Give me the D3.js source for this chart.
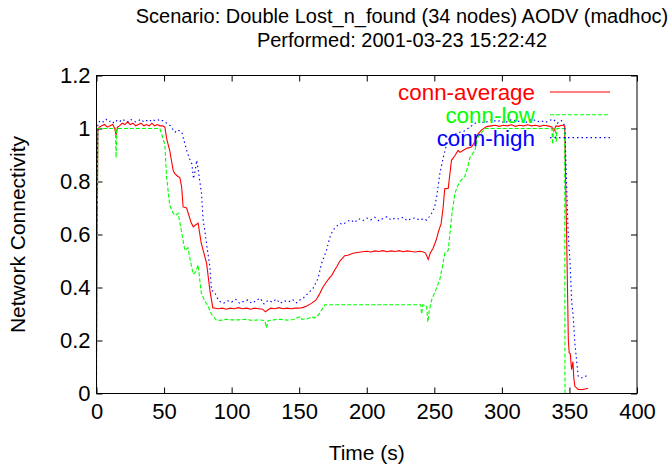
<!DOCTYPE html>
<html>
<head>
<meta charset="utf-8">
<script src="https://cdn.jsdelivr.net/npm/d3@7"></script>
<style>
  body { margin: 0; background: #fff; }
  svg text { font-family: "Liberation Sans", Arial, sans-serif; }
</style>
</head>
<body>
<div id="chart"></div>
<script>
// connectivity over time: [time (s), value]
var connAverage = [
  [0,0.15],[1,0.99],[2,1.005],[4,1.01],[6,1.015],[8,1.005],[10,1.01],[12,1.015],[13.5,1.0],[14.5,0.975],
  [15.5,1.005],[17,1.01],[19,1.02],[21,1.015],[23,1.025],[25,1.015],[27,1.02],[29,1.01],[31,1.015],[33,1.02],
  [35,1.01],[37,1.015],[39,1.01],[41,1.02],[43,1.01],[45,1.015],[47,1.01],[49,1.01],[50.6,1.005],[52,0.96],
  [54.2,0.917],[56.8,0.84],[58,0.83],[60,0.82],[61.7,0.815],[63,0.78],[64.1,0.704],[66.7,0.70],[68.5,0.67],[70,0.645],
  [71.6,0.629],[73,0.635],[75.2,0.643],[77.5,0.567],[79.5,0.53],[81.5,0.49],[83.9,0.39],[86.1,0.323],[88,0.322],[90,0.32],
  [93,0.322],[96,0.318],[99,0.322],[102,0.32],[105,0.324],[108,0.32],[111,0.322],[114,0.318],[117,0.322],[120,0.32],
  [123,0.318],[125,0.308],[127,0.316],[129,0.322],[132,0.32],[135,0.324],[138,0.32],[141,0.322],[144,0.32],[147,0.322],
  [150,0.322],[153,0.325],[155.6,0.33],[159,0.34],[162.5,0.353],[165,0.375],[167.4,0.40],[170,0.42],[172.4,0.436],[174,0.445],
  [176.3,0.466],[178,0.48],[180.1,0.50],[182,0.51],[183.7,0.52],[186,0.522],[189.9,0.529],[193,0.532],[197,0.535],[200,0.537],
  [203,0.534],[206,0.538],[209,0.536],[212,0.539],[215,0.535],[218,0.538],[221,0.536],[224,0.539],[227,0.535],[230,0.538],
  [233,0.536],[236,0.534],[239,0.537],[241.5,0.535],[243.5,0.53],[245.5,0.506],[247,0.53],[249.1,0.548],[251.4,0.579],[253,0.61],
  [255,0.64],[256.5,0.7],[257.7,0.773],[260.3,0.774],[262.7,0.88],[265.3,0.898],[267.6,0.917],[269,0.91],[271.2,0.917],[274,0.925],
  [277.5,0.93],[280,0.95],[282.4,0.98],[285,0.995],[288.7,1.007],[292,1.01],[295,1.012],[298,1.008],[301,1.012],[304,1.01],
  [307,1.014],[310,1.008],[313,1.012],[316,1.01],[319,1.014],[322,1.01],[325,1.012],[328,1.008],[331,1.012],[334,1.01],
  [337,1.006],[338.5,0.99],[340,1.01],[342,1.008],[344,1.012],[346.5,1.01],[347.9,0.6],[349.2,0.2],[349.8,0.154],[350.6,0.15],
  [351.6,0.09],[352.6,0.12],[353.2,0.06],[354,0.027],[356.5,0.015],[360,0.015],[363.9,0.02]
];
var connLow = [
  [0,0],[1,1.0],[14,1.0],[14.5,0.89],[15,1.0],[46.9,1.0],[48.9,0.967],[50.6,0.94],[51.8,0.82],[54.2,0.71],
  [56.8,0.68],[58.5,0.672],[60.4,0.68],[62.7,0.617],[65.4,0.54],[67.7,0.55],[69.5,0.5],[71.6,0.45],[73.5,0.46],[75.2,0.485],
  [77.5,0.38],[80,0.35],[82.5,0.33],[85,0.3],[88.4,0.278],[92,0.276],[96,0.28],[100,0.278],[105,0.278],[110,0.28],
  [115,0.276],[120,0.278],[124.5,0.275],[125.8,0.248],[127,0.275],[131,0.278],[136,0.28],[141,0.277],[146,0.279],[150.5,0.29],
  [152,0.28],[156,0.282],[159.6,0.29],[161,0.285],[164,0.295],[166,0.31],[169,0.335],[180,0.335],[200,0.335],[220,0.335],
  [240,0.335],[240.6,0.30],[241.5,0.335],[244.3,0.33],[245.2,0.27],[246.2,0.31],[248,0.353],[251,0.39],[254.1,0.43],[256,0.48],
  [257.8,0.53],[260.3,0.54],[262.8,0.667],[265.2,0.755],[267,0.78],[268.9,0.80],[272.6,0.82],[274.5,0.85],[276.3,0.89],[280,0.917],
  [282.2,0.967],[285,0.985],[287.4,1.0],[337,1.0],[337.6,0.94],[338.3,1.0],[339.6,1.0],[340.2,0.95],[340.8,1.0],[346.5,1.0],
  [346.7,0],[362.7,0]
];
var connHigh = [
  [0,0.55],[1,1.02],[3,1.03],[5,1.025],[7,1.035],[9,1.025],[11,1.03],[13,1.02],[15,1.03],[17,1.025],
  [19,1.035],[21,1.03],[23,1.025],[25,1.035],[27,1.03],[29,1.025],[31,1.03],[33,1.035],[35,1.025],[37,1.03],
  [39,1.025],[41,1.035],[43,1.03],[45,1.03],[47,1.035],[49.6,1.027],[52,1.02],[54.5,1.011],[56,1.0],[58.2,0.986],
  [60,0.995],[63.1,0.986],[65,0.95],[66.8,0.917],[68.5,0.89],[70.5,0.868],[71.8,0.81],[73,0.84],[74.2,0.88],[75.5,0.836],
  [77.7,0.755],[78.9,0.654],[80,0.62],[81.4,0.566],[83.9,0.479],[85.1,0.39],[87.6,0.38],[89.5,0.36],[91.3,0.347],[94,0.34],
  [97,0.35],[100,0.345],[103,0.355],[106,0.34],[109,0.348],[112,0.353],[115,0.34],[118,0.35],[121,0.36],[124,0.338],
  [127,0.352],[130,0.345],[133,0.356],[136,0.34],[139,0.35],[142,0.345],[145,0.355],[148,0.342],[150.5,0.353],[153,0.36],
  [156.6,0.378],[160.3,0.397],[164,0.435],[166.5,0.49],[170.2,0.54],[172.7,0.59],[175.1,0.617],[177.5,0.63],[180.1,0.642],[182.5,0.638],
  [185,0.648],[188,0.655],[191,0.645],[194,0.66],[197,0.652],[200,0.662],[203,0.655],[206,0.665],[209,0.652],[212,0.66],
  [215,0.667],[218,0.655],[221,0.662],[224,0.658],[227,0.665],[230,0.652],[233,0.66],[236,0.663],[239,0.654],[242,0.66],
  [244.3,0.654],[246,0.665],[248,0.68],[250,0.7],[251.7,0.74],[254.1,0.83],[256.6,0.89],[259.1,0.94],[261.5,0.967],[264,0.975],
  [266,0.98],[268.9,0.986],[272,0.99],[276.3,1.005],[279,1.015],[281.3,1.024],[284,1.03],[287,1.02],[290,1.028],[293,1.035],
  [296,1.025],[299,1.03],[302,1.02],[305,1.03],[308,1.035],[311,1.025],[314,1.03],[317,1.02],[320,1.03],[323,1.035],
  [326,1.025],[329,1.03],[332,1.022],[335,1.03],[338,1.035],[341,1.02],[344,1.03],[346.6,1.01],[347.9,0.79],[349.1,0.60],
  [350.4,0.50],[351.6,0.353],[352.8,0.29],[354,0.19],[356.5,0.065],[358,0.06],[360.2,0.059],[362,0.065],[363.9,0.071]
];
var seriesNames = ["conn-average", "conn-low", "conn-high"];
var xTicks = [0, 50, 100, 150, 200, 250, 300, 350, 400];
var yTicks = [0, 0.2, 0.4, 0.6, 0.8, 1, 1.2];
var titleLines = ["Scenario: Double Lost_n_found (34 nodes) AODV (madhoc)", "Performed: 2001-03-23 15:22:42"];

var W = 670, H = 466;
var margin = {top: 75.5, right: 33, bottom: 72.5, left: 96.5};
var width = W - margin.left - margin.right,
    height = H - margin.top - margin.bottom;

var svg = d3.select("#chart").append("svg")
  .attr("width", W).attr("height", H);

var x = d3.scaleLinear().domain([0, 400]).range([0, width]);
var y = d3.scaleLinear().domain([0, 1.2]).range([height, 0]);

var g = svg.append("g")
  .attr("transform", "translate(" + margin.left + "," + margin.top + ")");

// title
svg.selectAll(".title").data(titleLines).enter().append("text")
  .attr("x", 402).attr("y", function(d, i) { return 23 + i * 24; })
  .attr("text-anchor", "middle").style("font-size", "20px")
  .text(function(d) { return d; });

// ticks on all four sides, pointing in (gnuplot mirror)
var tl = 6;
g.append("g").attr("transform", "translate(0," + height + ")")
  .call(d3.axisBottom(x).tickValues(xTicks).tickSizeInner(-tl).tickSizeOuter(0).tickPadding(10))
  .call(function(a) { a.select(".domain").remove(); a.selectAll("text").style("font-size", "22px").attr("fill", "#000"); });
g.append("g")
  .call(d3.axisTop(x).tickValues(xTicks).tickSizeInner(-tl).tickSizeOuter(0).tickFormat(""))
  .call(function(a) { a.select(".domain").remove(); });
g.append("g")
  .call(d3.axisLeft(y).tickValues(yTicks).tickSizeInner(-tl).tickSizeOuter(0).tickPadding(6).tickFormat(d3.format("~g")))
  .call(function(a) { a.select(".domain").remove(); a.selectAll("text").style("font-size", "22px").attr("fill", "#000"); });
g.append("g").attr("transform", "translate(" + width + ",0)")
  .call(d3.axisRight(y).tickValues(yTicks).tickSizeInner(-tl).tickSizeOuter(0).tickFormat(""))
  .call(function(a) { a.select(".domain").remove(); });
g.selectAll(".tick line").attr("stroke", "#000");

// axis labels
svg.append("text")
  .attr("x", margin.left + width / 2).attr("y", 460)
  .attr("text-anchor", "middle").style("font-size", "21px")
  .text("Time (s)");
svg.append("text")
  .attr("transform", "translate(25," + (margin.top + height / 2) + ") rotate(-90)")
  .attr("text-anchor", "middle").style("font-size", "21px")
  .text("Network Connectivity");

// lines
var colors = ["#ff0000", "#00ff00", "#0000ff"];
var dashes = [null, "4,2", "1.5,3"];
var line = d3.line().x(function(d) { return x(d[0]); }).y(function(d) { return y(d[1]); });
[connAverage, connLow, connHigh].forEach(function(s, i) {
  g.append("path").datum(s)
    .attr("d", line)
    .attr("fill", "none")
    .attr("stroke", colors[i])
    .attr("stroke-width", 1.1)
    .attr("stroke-dasharray", dashes[i]);
});

// frame
g.append("rect").attr("width", width).attr("height", height)
  .attr("fill", "none").attr("stroke", "#000").attr("stroke-width", 1);

// legend
var legend = svg.selectAll(".legend").data(seriesNames).enter().append("g")
  .attr("transform", function(d, i) { return "translate(0," + (92 + i * 22.8) + ")"; });
legend.append("text")
  .attr("x", 535).attr("y", 8.4)
  .attr("text-anchor", "end").style("font-size", "22.4px")
  .attr("fill", function(d, i) { return colors[i]; })
  .text(function(d) { return d; });
legend.append("line")
  .attr("x1", 550).attr("x2", 610)
  .attr("stroke", function(d, i) { return colors[i]; })
  .attr("stroke-width", 1.1)
  .attr("stroke-dasharray", function(d, i) { return dashes[i]; });
</script>
</body>
</html>
